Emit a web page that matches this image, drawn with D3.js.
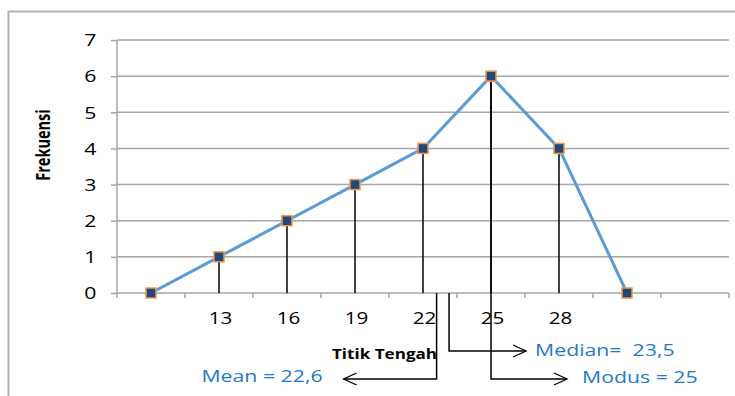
<!DOCTYPE html>
<html>
<head>
<meta charset="utf-8">
<script src="https://cdn.jsdelivr.net/npm/d3@7"></script>
<style>
  html, body { margin: 0; padding: 0; background: #fff; }
  svg { display: block; }
  text { font-family: "Open Sans", "Noto Sans", sans-serif; white-space: pre; }
</style>
</head>
<body>
<svg id="chart" width="735" height="396"></svg>
<script>
// ---- data ----
const midpoints  = [10, 13, 16, 19, 22, 25, 28, 31, 34];
const tickLabels = ["", "13", "16", "19", "22", "25", "28", "", ""];
const frequency  = [0, 1, 2, 3, 4, 6, 4, 0, null];
const stemShown  = [false, true, true, true, true, true, true, false, false];
const yTicks     = [0, 1, 2, 3, 4, 5, 6, 7];
const annotationLabels = ["Mean = 22,6", "Median=  23,5", "Modus = 25"];
const annotationValues = [22.6, 23.15, 25];   // where each bracket is drawn on the x axis
const xTitle = "Titik Tengah";
const yTitle = "Frekuensi";

// ---- layout ----
const annotationLayout = [
  { dir: -1, drop: 86, reach: 93, gap: 21, dy: -3, fromPoint: false },
  { dir:  1, drop: 58, reach: 77, gap: 9,  dy: -1, fromPoint: false },
  { dir:  1, drop: 86, reach: 76, gap: 15, dy: -2, fromPoint: true }
];
const SX = 1.33; // horizontal stretch of the text
const svg = d3.select("#chart");
const plot = { left: 117, right: 729, top: 40, bottom: 293 };
const gridColor = "#A6A6A6";
const lineColor = "#5B9BD5";
const textBlue = "#1F7AC8";

// outer frame (top + left edges visible)
svg.append("path")
  .attr("d", "M8.5,396 V11.5 H735")
  .attr("fill", "none").attr("stroke", "#B4B4B4").attr("stroke-width", 2);

const x = d3.scaleBand().domain(d3.range(midpoints.length))
  .range([plot.left, plot.right]).paddingInner(0).paddingOuter(0);
const xc = i => x(i) + x.bandwidth() / 2;
const xv = d3.scaleLinear()
  .domain([midpoints[0], midpoints[midpoints.length - 1]])
  .range([xc(0), xc(midpoints.length - 1)]);
const y = d3.scaleLinear().domain([0, 7]).range([plot.bottom, plot.top]);

// gridlines
svg.append("g").selectAll("line").data(yTicks.slice(1)).join("line")
  .attr("x1", plot.left).attr("x2", plot.right)
  .attr("y1", d => y(d)).attr("y2", d => y(d))
  .attr("stroke", gridColor).attr("stroke-width", 1.5);

// y axis
const yAxis = svg.append("g").attr("transform", `translate(${plot.left},0)`)
  .call(d3.axisLeft(y).tickValues(yTicks).tickSize(6).tickFormat(d3.format("d")));
yAxis.select(".domain").attr("stroke", gridColor).attr("stroke-width", 1.5)
  .attr("d", `M0,${plot.top}V${plot.bottom}`);
yAxis.selectAll(".tick line").attr("stroke", gridColor).attr("stroke-width", 1.5);
yAxis.selectAll(".tick text")
  .attr("x", 0).attr("dy", "0.36em")
  .attr("transform", `translate(-20.5,0) scale(${SX},1)`)
  .attr("font-size", 16).attr("fill", "#000")
  .style("font-family", '"Open Sans", sans-serif');

// x axis
const xAxis = svg.append("g").attr("transform", `translate(0,${plot.bottom})`)
  .call(d3.axisBottom(x).tickSize(0).tickFormat(i => tickLabels[i]));
xAxis.select(".domain").attr("stroke", gridColor).attr("stroke-width", 1.5)
  .attr("d", `M${plot.left},0H${plot.right}`);
xAxis.selectAll(".tick text")
  .attr("y", 0).attr("dy", "0.36em")
  .attr("transform", `translate(1.5,25.5) scale(${SX},1)`)
  .attr("font-size", 15.5).attr("fill", "#000")
  .style("font-family", '"Open Sans", sans-serif');
// category boundary ticks
svg.append("g").selectAll("line").data(d3.range(midpoints.length + 1)).join("line")
  .attr("x1", i => plot.left + i * x.bandwidth()).attr("x2", i => plot.left + i * x.bandwidth())
  .attr("y1", plot.bottom).attr("y2", plot.bottom + 5)
  .attr("stroke", gridColor).attr("stroke-width", 1.5);

// stems
svg.append("g").selectAll("line")
  .data(d3.range(midpoints.length).filter(i => stemShown[i])).join("line")
  .attr("x1", i => xc(i)).attr("x2", i => xc(i))
  .attr("y1", i => y(frequency[i])).attr("y2", plot.bottom)
  .attr("stroke", "#000").attr("stroke-width", 1.5);

// annotations (bracket arrows)
const ann = svg.append("g");
annotationLabels.forEach((label, k) => {
  const L = annotationLayout[k];
  const v = annotationValues[k];
  const ax = xv(v);
  const by = plot.bottom + L.drop;
  const ex = ax + L.dir * L.reach;
  const top = L.fromPoint ? y(frequency[midpoints.indexOf(v)]) : plot.bottom;
  ann.append("path")
    .attr("d", `M${ax},${top}V${by}H${ex}`)
    .attr("fill", "none").attr("stroke", "#000").attr("stroke-width", 1.5);
  ann.append("path")
    .attr("d", `M${ex - L.dir * 13},${by - 6}L${ex},${by}L${ex - L.dir * 13},${by + 6}`)
    .attr("fill", "none").attr("stroke", "#000").attr("stroke-width", 1.3);
  ann.append("text")
    .attr("transform", `translate(${ex + L.dir * L.gap},${by + L.dy}) scale(${SX},1)`)
    .attr("dy", "0.36em")
    .attr("text-anchor", L.dir < 0 ? "end" : "start")
    .attr("font-size", 16).attr("fill", textBlue)
    .text(label);
});

// line
const pts = d3.range(midpoints.length).filter(i => frequency[i] !== null);
svg.append("path")
  .datum(pts)
  .attr("d", d3.line().x(i => xc(i)).y(i => y(frequency[i])))
  .attr("fill", "none").attr("stroke", lineColor).attr("stroke-width", 3)
  .attr("stroke-linejoin", "round");

// markers
svg.append("g").selectAll("rect").data(pts).join("rect")
  .attr("x", i => xc(i) - 5).attr("y", i => y(frequency[i]) - 5)
  .attr("width", 10).attr("height", 10)
  .attr("fill", "#1F497D").attr("stroke", "#F79646").attr("stroke-width", 1.5);

// axis titles
svg.append("text")
  .attr("transform", `translate(384.5,${plot.bottom + 61}) scale(1.22,1)`)
  .attr("dy", "0.36em").attr("text-anchor", "middle")
  .attr("font-size", 14).attr("font-weight", "bold").attr("fill", "#000")
  .text(xTitle);
svg.append("text")
  .attr("transform", `translate(43.5,145) scale(${SX},1) rotate(-90)`)
  .attr("dy", "0.36em").attr("text-anchor", "middle")
  .attr("font-size", 14.5).attr("font-weight", "bold").attr("fill", "#000")
  .text(yTitle);
</script>
</body>
</html>
